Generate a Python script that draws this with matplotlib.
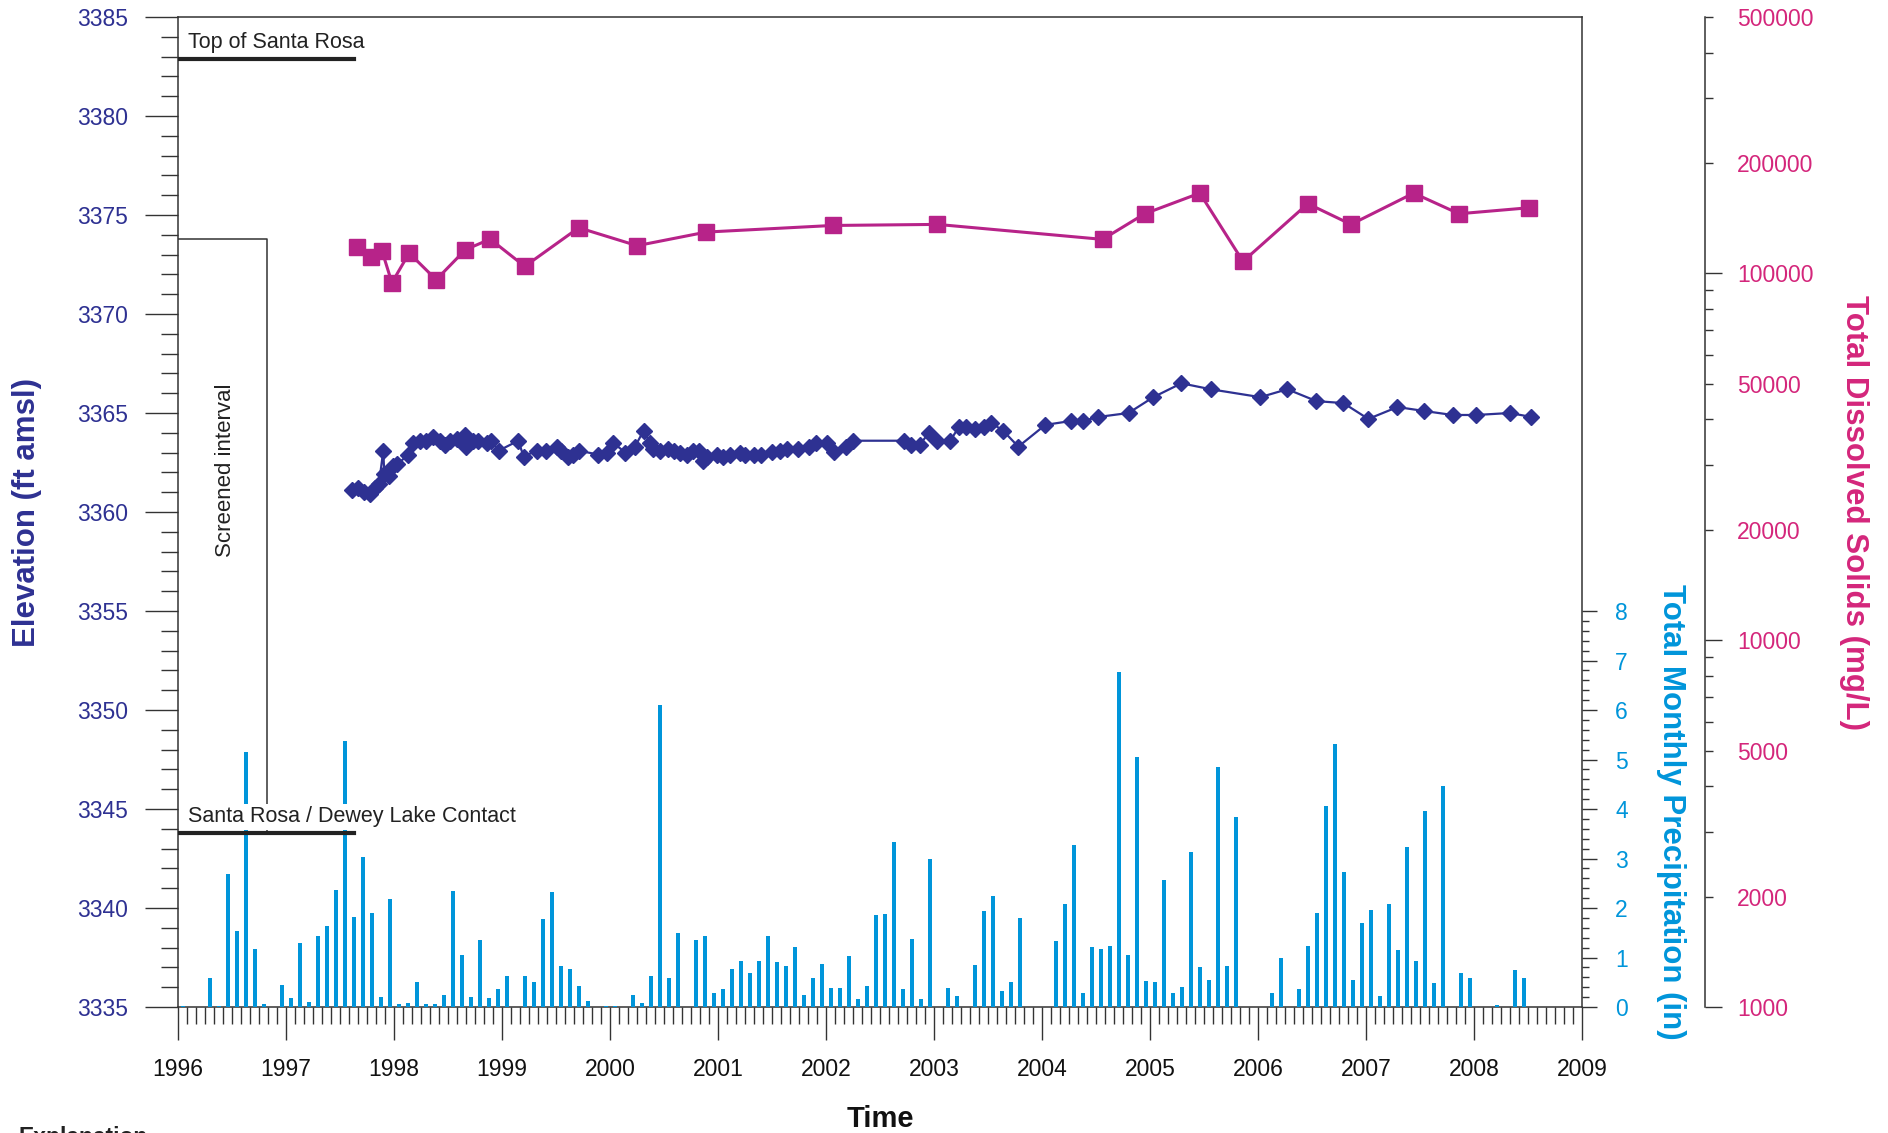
import numpy as np
import matplotlib
matplotlib.use('Agg')
import matplotlib.pyplot as plt
from matplotlib.lines import Line2D
from matplotlib.ticker import LogLocator, FuncFormatter, MultipleLocator

plt.rcParams['font.family'] = ['Liberation Sans', 'DejaVu Sans']

navy = '#2e3192'
magenta = '#b72389'
pink = '#d4267b'
rain_blue = '#0095da'
dark = '#333333'

# water level elevation (decimal year, ft amsl)
wl_year = [1997.61, 1997.67, 1997.72, 1997.78, 1997.82, 1997.86, 1997.90, 1997.91, 1997.95, 1997.99,
           1998.03, 1998.13, 1998.18, 1998.24, 1998.30, 1998.36, 1998.43, 1998.47, 1998.52, 1998.58,
           1998.66, 1998.67, 1998.73, 1998.78, 1998.86, 1998.90, 1998.97, 1999.15, 1999.20, 1999.32,
           1999.41, 1999.51, 1999.55, 1999.61, 1999.66, 1999.71, 1999.89, 1999.97, 2000.03, 2000.14,
           2000.23, 2000.31, 2000.37, 2000.40, 2000.46, 2000.54, 2000.59, 2000.65, 2000.71, 2000.77,
           2000.82, 2000.86, 2000.90, 2000.99, 2001.05, 2001.11, 2001.20, 2001.25, 2001.33, 2001.40,
           2001.50, 2001.57, 2001.64, 2001.74, 2001.84, 2001.91, 2002.01, 2002.07, 2002.18, 2002.25,
           2002.72, 2002.79, 2002.87, 2002.95, 2003.03, 2003.15, 2003.23, 2003.30, 2003.38, 2003.46,
           2003.53, 2003.64, 2003.78, 2004.03, 2004.27, 2004.38, 2004.52, 2004.80, 2005.03, 2005.29,
           2005.56, 2006.02, 2006.27, 2006.54, 2006.79, 2007.02, 2007.29, 2007.54, 2007.80, 2008.02,
           2008.33, 2008.53]
wl_elev = [3361.1, 3361.2, 3361.0, 3360.9, 3361.2, 3361.4, 3363.1, 3361.9, 3361.8, 3362.3,
           3362.4, 3362.9, 3363.5, 3363.6, 3363.6, 3363.8, 3363.6, 3363.4, 3363.6, 3363.7,
           3363.9, 3363.3, 3363.6, 3363.6, 3363.5, 3363.6, 3363.1, 3363.6, 3362.8, 3363.1,
           3363.1, 3363.3, 3363.1, 3362.8, 3362.9, 3363.1, 3362.9, 3363.0, 3363.5, 3363.0,
           3363.3, 3364.1, 3363.5, 3363.2, 3363.1, 3363.2, 3363.1, 3363.0, 3362.9, 3363.1,
           3363.1, 3362.6, 3362.8, 3362.9, 3362.8, 3362.9, 3363.0, 3362.9, 3362.9, 3362.9,
           3363.05, 3363.1, 3363.2, 3363.2, 3363.3, 3363.5, 3363.5, 3363.05, 3363.3, 3363.6,
           3363.6, 3363.4, 3363.4, 3364.0, 3363.6, 3363.6, 3364.3, 3364.3, 3364.2, 3364.3,
           3364.5, 3364.1, 3363.3, 3364.4, 3364.6, 3364.6, 3364.8, 3365.0, 3365.8, 3366.5,
           3366.2, 3365.8, 3366.2, 3365.6, 3365.5, 3364.7, 3365.3, 3365.1, 3364.9, 3364.9,
           3365.0, 3364.8]

# total dissolved solids (mg/L)
tds_year = [1997.66, 1997.79, 1997.89, 1997.98, 1998.14, 1998.39, 1998.66, 1998.89, 1999.21, 1999.71,
            2000.25, 2000.89, 2002.06, 2003.03, 2004.56, 2004.95, 2005.46, 2005.86, 2006.46, 2006.86,
            2007.44, 2007.86, 2008.51]
tds = [117900, 110800, 114800, 94300, 113600, 96100, 116000, 124000, 104500, 133200,
       119000, 129600, 135100, 136000, 123800, 145400, 165500, 107800, 154900, 136000,
       165500, 145400, 151000]

# total monthly precipitation (in), Jan-Dec for each year
precip_years = list(range(1996, 2009))
precip = [
    [0.03, 0, 0, 0.58, 0.03, 2.69, 1.53, 5.16, 1.17, 0.07, 0, 0.44],
    [0.18, 1.29, 0.11, 1.43, 1.63, 2.36, 5.38, 1.82, 3.03, 1.90, 0.20, 2.18],
    [0.07, 0.09, 0.50, 0.07, 0.07, 0.24, 2.34, 1.05, 0.20, 1.35, 0.18, 0.36],
    [0.62, 0, 0.62, 0.50, 1.77, 2.32, 0.82, 0.76, 0.42, 0.13, 0, 0.03],
    [0.03, 0, 0.24, 0.09, 0.62, 6.11, 0.58, 1.49, 0, 1.35, 1.43, 0.28],
    [0.36, 0.76, 0.92, 0.68, 0.92, 1.43, 0.90, 0.82, 1.21, 0.24, 0.58, 0.86],
    [0.38, 0.38, 1.03, 0.16, 0.42, 1.86, 1.88, 3.34, 0.36, 1.37, 0.16, 2.99],
    [0, 0.38, 0.22, 0, 0.84, 1.94, 2.24, 0.32, 0.50, 1.80, 0, 0],
    [0, 1.33, 2.09, 3.27, 0.28, 1.22, 1.17, 1.24, 6.76, 1.06, 5.06, 0.52],
    [0.50, 2.56, 0.28, 0.40, 3.14, 0.80, 0.54, 4.84, 0.82, 3.83, 0, 0],
    [0, 0.28, 1.00, 0, 0.36, 1.24, 1.89, 4.07, 5.32, 2.72, 0.54, 1.69],
    [1.95, 0.22, 2.09, 1.16, 3.24, 0.92, 3.95, 0.48, 4.47, 0, 0.68, 0.58],
    [0, 0, 0.05, 0, 0.74, 0.58, 0, 0, 0, 0, 0, 0],
]

# geologic markers (ft amsl)
top_santa_rosa = 3382.9
contact_elev = 3343.8
screen_top = 3373.8
screen_right = 1996.82

fig = plt.figure(figsize=(18.88, 11.33), dpi=100)
ax = fig.add_axes([0.0943, 0.1112, 0.7437, 0.8738])
ax_p = ax.twinx()
ax_t = ax.twinx()

# precipitation bars
months = []
rain = []
for i, yr in enumerate(precip_years):
    for m in range(12):
        months.append(yr + (m + 0.5) / 12)
        rain.append(precip[i][m])
ax_p.bar(months, rain, width=0.037, color=rain_blue, edgecolor='none')

# water levels and TDS
ax.plot(wl_year, wl_elev, color=navy, lw=1.6, marker='D', ms=8.5, mec=navy, mfc=navy)
ax_t.plot(tds_year, tds, color=magenta, lw=2.2, marker='s', ms=12, mec=magenta, mfc=magenta)

tick_fs = 16.5

# main axis
ax.set_xlim(1996, 2009)
ax.set_ylim(3335, 3385)
ax.xaxis.set_ticks_position('bottom')
ax.yaxis.set_ticks_position('left')
ax.set_xticks(range(1996, 2010))
ax.xaxis.set_minor_locator(MultipleLocator(1 / 12))
ax.yaxis.set_major_locator(MultipleLocator(5))
ax.yaxis.set_minor_locator(MultipleLocator(1))
ax.tick_params(axis='x', which='major', length=23.8, width=1, pad=13, labelsize=tick_fs,
               labelcolor='#111111', color=dark)
ax.tick_params(axis='x', which='minor', length=12.2, width=1, color=dark)
ax.tick_params(axis='y', which='major', length=23.8, width=1, pad=12, labelsize=tick_fs,
               labelcolor=navy, color=dark)
ax.tick_params(axis='y', which='minor', length=12.2, width=1, color=dark)
for s in ax.spines.values():
    s.set_color(dark)
    s.set_linewidth(1.1)
ax.set_ylabel('Elevation (ft amsl)', fontsize=22.5, fontweight='bold', color=navy)
ax.yaxis.set_label_coords(-0.097, 0.5)
ax.set_xlabel('Time', fontsize=21, fontweight='bold', color='#111111')
ax.xaxis.set_label_coords(0.5, -0.099)

# precipitation axis
ax_p.set_ylim(0, 20)
ax_p.set_yticks(range(0, 9))
ax_p.set_yticks(np.arange(0, 8.01, 0.2), minor=True)
ax_p.tick_params(axis='y', which='major', length=10.8, width=1, pad=13, labelsize=tick_fs,
                 labelcolor=rain_blue, color=dark)
ax_p.tick_params(axis='y', which='minor', length=5, width=1, color=dark)
for s in ax_p.spines.values():
    s.set_visible(False)
ax_p.set_ylabel('Total Monthly Precipitation (in)', fontsize=22.5, fontweight='bold',
                color=rain_blue, rotation=270, va='center')
ax_p.yaxis.set_label_coords(1.0634, 0.1975)

# TDS axis
ax_t.set_yscale('log')
ax_t.set_ylim(1000, 500000)
ax_t.spines['right'].set_position(('axes', 1.0876))
for k in ['left', 'top', 'bottom']:
    ax_t.spines[k].set_visible(False)
ax_t.spines['right'].set_color(dark)
ax_t.spines['right'].set_linewidth(1.1)
ax_t.yaxis.set_major_locator(LogLocator(base=10))
ax_t.yaxis.set_minor_locator(LogLocator(base=10, subs=np.arange(2, 10)))
ax_t.yaxis.set_major_formatter(FuncFormatter(lambda v, p: '{:.0f}'.format(v)))


def minor_fmt(v, p):
    lead = round(v / 10 ** np.floor(np.log10(v) + 1e-9))
    return '{:.0f}'.format(v) if lead in (2, 5) else ''


ax_t.yaxis.set_minor_formatter(FuncFormatter(minor_fmt))
ax_t.tick_params(axis='y', which='major', length=12.2, width=1, pad=11, labelsize=tick_fs,
                 labelcolor=pink, color=dark)
ax_t.tick_params(axis='y', which='minor', length=5.8, width=1, pad=17.3, labelsize=tick_fs,
                 labelcolor=pink, color=dark)
ax_t.set_ylabel('Total Dissolved Solids (mg/L)', fontsize=22.5, fontweight='bold',
                color=pink, rotation=270, va='center')
ax_t.yaxis.set_label_coords(1.1937, 0.5)

# geology annotations drawn on top of the bars
tr = ax.transData
ax_t.add_artist(Line2D([1996, screen_right, screen_right], [screen_top, screen_top, contact_elev],
                       transform=tr, color=dark, lw=1.1))
ax_t.add_artist(Line2D([1996, 1997.63], [top_santa_rosa, top_santa_rosa],
                       transform=tr, color='#222222', lw=3))
ax_t.add_artist(Line2D([1996, 1997.63], [contact_elev, contact_elev],
                       transform=tr, color='#222222', lw=3))
ax_t.text(1996.09, 3383.7, 'Top of Santa Rosa', transform=tr, fontsize=15.5,
          color='#222222', va='center', ha='left')
ax_t.text(1996.09, 3344.6, 'Santa Rosa / Dewey Lake Contact', transform=tr, fontsize=15.5,
          color='#222222', va='center', ha='left',
          bbox=dict(facecolor='white', edgecolor='none', pad=2))
ax_t.text(1996.435, 3362.1, 'Screened interval', transform=tr, fontsize=16,
          color='#222222', va='center', ha='center', rotation=90)

fig.text(0.01, 0.006, 'Explanation', fontsize=16.5, fontweight='bold', va='top', color='#222222')

fig.savefig('out.png', dpi=100)
